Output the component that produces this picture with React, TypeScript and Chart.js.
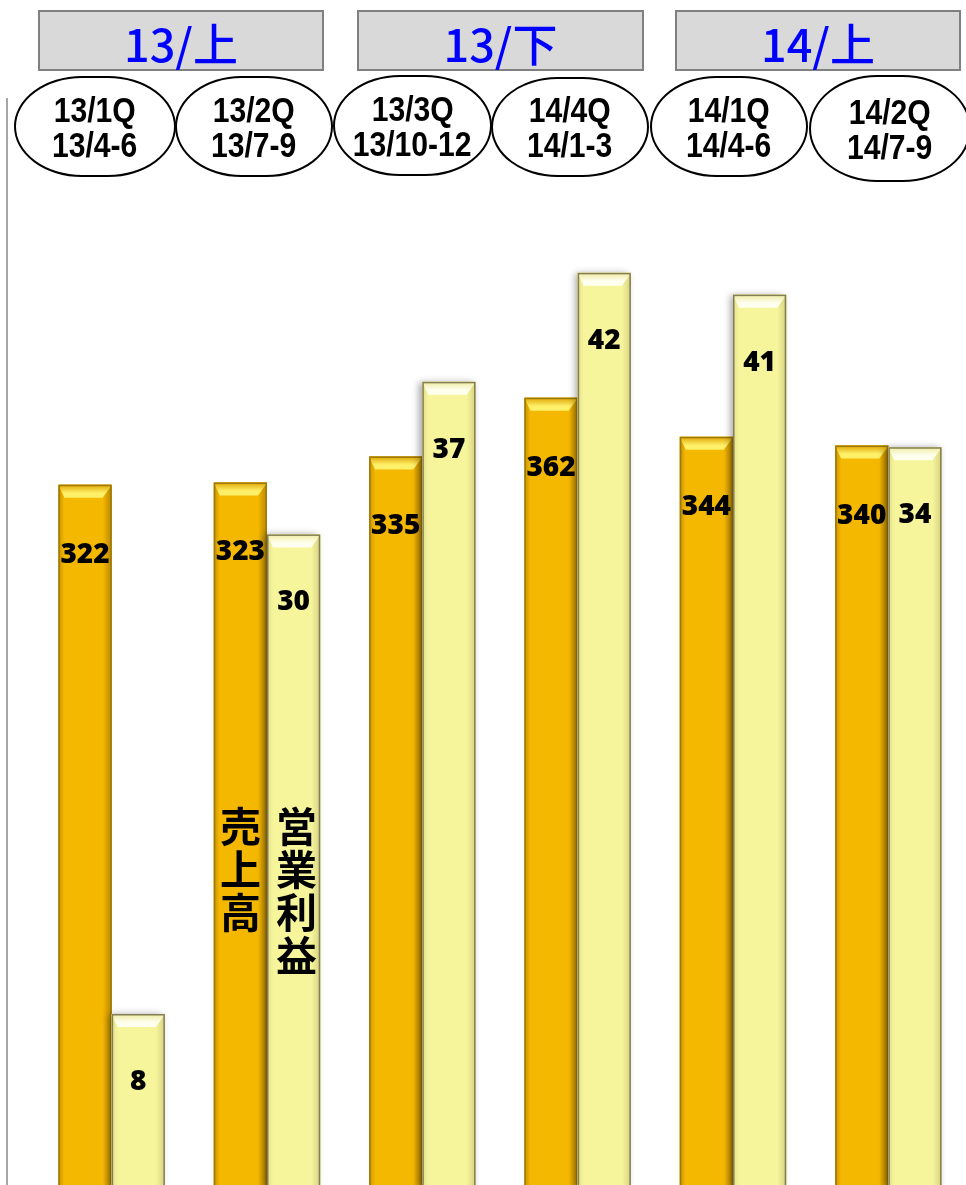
import React, { useEffect, useRef } from "react";
import { Chart, registerables } from "chart.js";

Chart.register(...registerables);

// ---- data ----
const categories = ["13/1Q", "13/2Q", "13/3Q", "14/4Q", "14/1Q", "14/2Q"];
const periodLines = ["13/4-6", "13/7-9", "13/10-12", "14/1-3", "14/4-6", "14/7-9"];
const halfLabels = ["13/上", "13/下", "14/上"];
const sales = [322, 323, 335, 362, 344, 340];
const profit = [8, 30, 37, 42, 41, 34];
const seriesNames = ["売上高", "営業利益"];
const seriesLabelIndex = 1; // category whose bars carry the vertical series names

// ---- layout (not data) ----
const halfBoxes = [
  { left: 38, width: 286 },
  { left: 357, width: 287 },
  { left: 675, width: 286 },
];
const quarterBoxes = [
  { left: 14, top: 76, width: 162, height: 101 },
  { left: 175, top: 76, width: 158, height: 101 },
  { left: 333, top: 75, width: 159, height: 101 },
  { left: 491, top: 77, width: 158, height: 100 },
  { left: 650, top: 76, width: 158, height: 101 },
  { left: 809, top: 75, width: 162, height: 107 },
];

const barStyles = [
  {
    base: "#F5B800",
    left: "#C99300",
    right: "#B78600",
    topOuter: "#E0A500",
    topInner: "#FFF06A",
    border: "#9C7A10",
    shadow: false,
  },
  {
    base: "#F6F59C",
    left: "#E2DE88",
    right: "#D6D282",
    topOuter: "#EEEBA0",
    topInner: "#FFFFF0",
    border: "#857E55",
    shadow: true,
  },
];

const labelOffsets = [70, 68];

const bevelPlugin = {
  id: "bevelBars",
  afterDatasetsDraw(chart: any) {
    const ctx = chart.ctx as CanvasRenderingContext2D;
    chart.data.datasets.forEach((ds: any, di: number) => {
      const meta = chart.getDatasetMeta(di);
      const st = barStyles[di];
      meta.data.forEach((bar: any) => {
        const { x, y, base, width } = bar.getProps(["x", "y", "base", "width"], true);
        const x0 = x - width / 2;
        const x1 = x + width / 2;
        const top = y;
        const bot = base;
        const bl = 6;
        const br = 9;
        const bt = 13;
        ctx.save();
        if (st.shadow) {
          ctx.save();
          ctx.shadowColor = "rgba(0,0,0,0.35)";
          ctx.shadowBlur = 7;
          ctx.shadowOffsetX = -3;
          ctx.shadowOffsetY = 0;
          ctx.fillStyle = st.base;
          ctx.fillRect(x0, top, x1 - x0, bot - top);
          ctx.restore();
        }
        ctx.fillStyle = st.base;
        ctx.fillRect(x0, top, x1 - x0, bot - top);
        // left side bevel
        let g = ctx.createLinearGradient(x0, 0, x0 + bl, 0);
        g.addColorStop(0, st.left);
        g.addColorStop(1, st.base);
        ctx.fillStyle = g;
        ctx.beginPath();
        ctx.moveTo(x0, top);
        ctx.lineTo(x0 + bl, top + bt);
        ctx.lineTo(x0 + bl, bot);
        ctx.lineTo(x0, bot);
        ctx.closePath();
        ctx.fill();
        // right side bevel
        g = ctx.createLinearGradient(x1 - br, 0, x1, 0);
        g.addColorStop(0, st.base);
        g.addColorStop(1, st.right);
        ctx.fillStyle = g;
        ctx.beginPath();
        ctx.moveTo(x1, top);
        ctx.lineTo(x1 - br, top + bt);
        ctx.lineTo(x1 - br, bot);
        ctx.lineTo(x1, bot);
        ctx.closePath();
        ctx.fill();
        // top bevel
        g = ctx.createLinearGradient(0, top, 0, top + bt);
        g.addColorStop(0, st.topOuter);
        g.addColorStop(0.65, st.topInner);
        g.addColorStop(1, st.topInner);
        ctx.fillStyle = g;
        ctx.beginPath();
        ctx.moveTo(x0, top);
        ctx.lineTo(x1, top);
        ctx.lineTo(x1 - br, top + bt);
        ctx.lineTo(x0 + bl, top + bt);
        ctx.closePath();
        ctx.fill();
        // border
        ctx.strokeStyle = st.border;
        ctx.lineWidth = 1.5;
        ctx.strokeRect(x0 + 0.75, top + 0.75, x1 - x0 - 1.5, bot - top + 2);
        ctx.restore();
      });
    });

    // value labels
    ctx.save();
    ctx.fillStyle = "#000";
    ctx.textAlign = "center";
    ctx.textBaseline = "middle";
    ctx.font = "900 28px 'Noto Sans', 'DejaVu Sans', sans-serif";
    chart.data.datasets.forEach((ds: any, di: number) => {
      const meta = chart.getDatasetMeta(di);
      meta.data.forEach((bar: any, i: number) => {
        const { x, y } = bar.getProps(["x", "y"], true);
        ctx.fillText(String(ds.data[i]), x, y + labelOffsets[di]);
      });
    });

    // vertical series names
    ctx.font = "bold 41px 'Noto Sans CJK JP', sans-serif";
    const bottom = chart.chartArea.bottom;
    chart.data.datasets.forEach((ds: any, di: number) => {
      const meta = chart.getDatasetMeta(di);
      const bar = meta.data[seriesLabelIndex];
      const { x } = bar.getProps(["x"], true);
      const chars = Array.from(ds.label as string);
      chars.forEach((c, k) => {
        ctx.fillText(c, x + (di === 1 ? 3 : 0), bottom - 359 + k * 43);
      });
    });
    ctx.restore();
  },
};

export default function App() {
  const canvasRef = useRef<HTMLCanvasElement>(null);

  useEffect(() => {
    const canvas = canvasRef.current;
    if (!canvas) return;
    const chart = new Chart(canvas, {
      type: "bar",
      data: {
        labels: categories,
        datasets: [
          {
            label: seriesNames[0],
            data: sales,
            backgroundColor: barStyles[0].base,
            borderWidth: 0,
            yAxisID: "y",
            categoryPercentage: 0.685,
            barPercentage: 1,
          },
          {
            label: seriesNames[1],
            data: profit,
            backgroundColor: barStyles[1].base,
            borderWidth: 0,
            yAxisID: "y1",
            categoryPercentage: 0.685,
            barPercentage: 1,
          },
        ],
      },
      options: {
        responsive: false,
        animation: false,
        layout: { padding: { left: 34, top: 190, right: 0, bottom: 0 } },
        plugins: {
          legend: { display: false },
          tooltip: { enabled: false },
        },
        scales: {
          x: { display: false },
          y: { display: false, min: 0, max: 457.5 },
          y1: { display: false, position: "right", min: 0.156, max: 45.8 },
        },
      },
      plugins: [bevelPlugin],
    });
    return () => chart.destroy();
  }, []);

  return (
    <div
      style={{
        position: "fixed",
        left: 0,
        top: 0,
        width: 966,
        height: 1185,
        overflow: "hidden",
        background: "#fff",
      }}
    >
      <canvas
        ref={canvasRef}
        width={966}
        height={1185}
        style={{ position: "absolute", left: 0, top: 0, width: 966, height: 1185 }}
      />
      <div
        style={{
          position: "absolute",
          left: 6,
          top: 98,
          width: 2,
          height: 1087,
          background: "#A6A6A6",
        }}
      />
      {halfLabels.map((t, i) => (
        <div
          key={t}
          style={{
            position: "absolute",
            left: halfBoxes[i].left,
            top: 10,
            width: halfBoxes[i].width,
            height: 61,
            boxSizing: "border-box",
            background: "#D9D9D9",
            border: "2px solid #808080",
            color: "#0000FF",
            fontFamily: "'Noto Sans CJK JP', sans-serif",
            fontWeight: 500,
            fontSize: 45,
            lineHeight: "62px",
            textAlign: "center",
          }}
        >
          {t}
        </div>
      ))}
      {categories.map((c, i) => (
        <div
          key={c}
          style={{
            position: "absolute",
            left: quarterBoxes[i].left,
            top: quarterBoxes[i].top,
            width: quarterBoxes[i].width,
            height: quarterBoxes[i].height,
            boxSizing: "border-box",
            border: "2.5px solid #000",
            borderRadius: "42% / 50%",
            background: "#fff",
            display: "flex",
            flexDirection: "column",
            alignItems: "center",
            justifyContent: "center",
            fontFamily: "'Liberation Sans Narrow', 'Liberation Sans', sans-serif",
            fontWeight: "bold",
            fontSize: 35,
            lineHeight: "35px",
            color: "#000",
          }}
        >
          <div style={{ transform: "scaleX(0.86)", whiteSpace: "nowrap" }}>{c}</div>
          <div style={{ transform: "scaleX(0.86)", whiteSpace: "nowrap" }}>{periodLines[i]}</div>
        </div>
      ))}
    </div>
  );
}
